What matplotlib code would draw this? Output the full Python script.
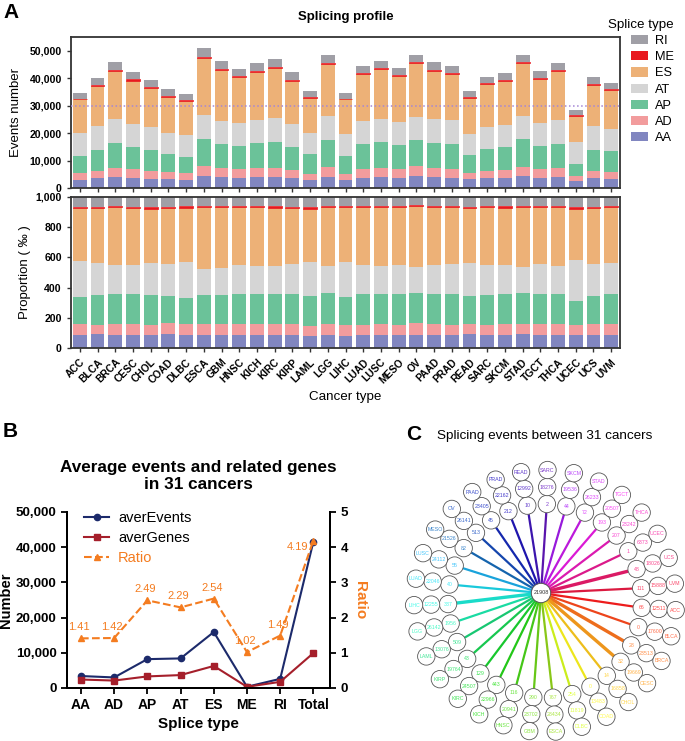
import colorsys
import numpy as np
import matplotlib
matplotlib.use('Agg')
import matplotlib.pyplot as plt
from matplotlib.patches import Circle, Patch

plt.rcParams['font.family'] = ['Liberation Sans', 'DejaVu Sans']

W, H = 685, 741

# ---------------- panel A data (events per splice type) ----------------
cancers = ['ACC', 'BLCA', 'BRCA', 'CESC', 'CHOL', 'COAD', 'DLBC', 'ESCA', 'GBM',
           'HNSC', 'KICH', 'KIRC', 'KIRP', 'LAML', 'LGG', 'LIHC', 'LUAD', 'LUSC',
           'MESO', 'OV', 'PAAD', 'PRAD', 'READ', 'SARC', 'SKCM', 'STAD', 'TGCT',
           'THCA', 'UCEC', 'UCS', 'UVM']
aa = [3040, 3650, 4000, 3650, 3400, 3280, 3040, 4500, 4010, 3770, 3890, 4140, 3650, 2920, 4140, 2800,
      3770, 4010, 3650, 4260, 3890, 3770, 3160, 3530, 3650, 4380, 3770, 3890, 2430, 3530, 3280]
ad = [2430, 2550, 3300, 3150, 2680, 2560, 2310, 3530, 3410, 3040, 3290, 3280, 2920, 2190, 3520, 2430,
      3040, 3290, 3160, 3650, 3290, 3040, 2440, 2670, 2920, 3410, 3040, 3410, 1950, 2800, 2680]
ap = [6330, 7800, 9100, 8160, 7670, 6570, 5960, 9970, 8640, 8640, 9120, 9480, 8390, 7180, 9860, 6450,
      9130, 9370, 8760, 9610, 9240, 9130, 6570, 7910, 8270, 9970, 8400, 8880, 4500, 7540, 7540]
at = [8150, 8500, 8660, 8280, 8390, 7660, 8150, 8520, 8390, 8270, 8400, 8650, 8520, 7780, 8640, 8020,
      8510, 8510, 8520, 8510, 8760, 8760, 7660, 8270, 8030, 8400, 8630, 8640, 7790, 8630, 7910]
es = [12290, 14500, 17640, 15810, 14110, 13140, 12170, 20800, 18490, 16670, 17640, 18000, 15570, 12530,
      19100, 12540, 16910, 18130, 16790, 19350, 17400, 16780, 12900, 15330, 16060, 19220, 15940, 17640,
      9730, 15090, 14110]
me = [240, 350, 370, 490, 490, 370, 370, 370, 370, 360, 360, 370, 370, 370, 360, 240,
      370, 360, 360, 360, 360, 370, 240, 370, 360, 360, 370, 360, 240, 370, 370]
ri = [2190, 2550, 2790, 2660, 2550, 2310, 2060, 3160, 2800, 2560, 2680, 2920, 2670, 2430, 2800, 1950,
      2670, 2680, 2560, 2680, 2800, 2550, 2310, 2430, 2560, 2800, 2550, 2680, 1950, 2550, 2190]
splice_types = ['AA', 'AD', 'AP', 'AT', 'ES', 'ME', 'RI']
type_colors = ['#8186c0', '#f29c9d', '#6bc299', '#d5d5d5', '#edb177', '#e8191f', '#a09fa6']

# ---------------- panel B data ----------------
b_types = ['AA', 'AD', 'AP', 'AT', 'ES', 'ME', 'RI', 'Total']
aver_events = [3400, 3000, 8200, 8400, 15900, 350, 2600, 41600]
aver_genes = [2410, 2110, 3290, 3670, 6260, 343, 1745, 9930]
ratio = [1.41, 1.42, 2.49, 2.29, 2.54, 1.02, 1.49, 4.19]

# ---------------- panel C data ----------------
shared_center = 21908
inner_vals = [66, 0, 28, 32, 14, 0, 254, 767, 290, 116, 443, 129, 43, 509, 1956, 337,
              40, 55, 82, 513, 45, 212, 10, 2, 44, 72, 193, 207, 1, 48, 111]
outer_vals = [12511, 17600, 23513, 19669, 16858, 13483, 11819, 28434, 23702, 20941, 22966,
              24507, 19764, 13076, 26142, 12255, 22046, 24112, 21526, 26141, 23405, 22162,
              12992, 18276, 19536, 26233, 20507, 23242, 6373, 18026, 15888]
thick_spokes = {'BRCA', 'CESC', 'LIHC', 'UCS'}


def px_axes(fig, left, top, right, bottom):
    return fig.add_axes([left / W, 1 - bottom / H, (right - left) / W, (bottom - top) / H])


def spoke_color(h, light=False):
    # darker blues/greens, brighter reds/yellows, like the original wheel
    if h < 0.2:
        v = 0.93
    elif h < 0.45:
        v = 0.78
    elif h < 0.55:
        v = 0.86
    elif h < 0.75:
        v = 0.68
    else:
        v = 0.86
    if light:
        return colorsys.hsv_to_rgb(h, 0.7, min(1.0, v + 0.12))
    return colorsys.hsv_to_rgb(h, 0.88, v)


fig = plt.figure(figsize=(W / 100, H / 100), dpi=100)

# ================= Panel A =================
x = np.arange(len(cancers))
segs = [aa, ad, ap, at, es, me, ri]
totals = np.sum(np.array(segs, dtype=float), axis=0)

ax_top = px_axes(fig, 71, 37, 620, 188)
ax_bot = px_axes(fig, 71, 197, 620, 348)

bottom = np.zeros(len(cancers))
bottom_p = np.zeros(len(cancers))
for name, vals, col in zip(splice_types, segs, type_colors):
    vals = np.array(vals, dtype=float)
    ec = col if name == 'ME' else 'none'
    lw = 0.5 if name == 'ME' else 0
    ax_top.bar(x, vals, 0.78, bottom=bottom, color=col, edgecolor=ec, linewidth=lw, label=name)
    prop = vals / totals * 1000
    ax_bot.bar(x, prop, 0.78, bottom=bottom_p, color=col, edgecolor=ec, linewidth=lw)
    bottom += vals
    bottom_p += prop

ax_top.axhline(30000, color='#a486d6', ls=':', lw=1.1, zorder=3)

for ax in (ax_top, ax_bot):
    ax.set_xlim(-0.5, len(cancers) - 0.5)
    for s in ax.spines.values():
        s.set_linewidth(1.3)
        s.set_color('#333333')
    ax.tick_params(axis='both', direction='out', length=3, width=1, color='#333333')

ax_top.set_ylim(0, 55000)
ax_top.set_yticks(range(0, 50001, 10000))
ax_top.set_yticklabels([f'{v:,}' for v in range(0, 50001, 10000)], fontsize=7.6, fontweight='bold')
ax_top.set_xticks(x)
ax_top.set_xticklabels([])
ax_top.set_ylabel('Events number', fontsize=9.5)
ax_top.yaxis.set_label_coords((22 - 71) / 549, 0.5)
ax_top.set_title('Splicing profile', fontsize=9.5, fontweight='bold', pad=12)

ax_bot.set_ylim(0, 1000)
ax_bot.set_yticks(range(0, 1001, 200))
ax_bot.set_yticklabels([f'{v:,}' for v in range(0, 1001, 200)], fontsize=7.6, fontweight='bold')
ax_bot.set_xticks(x)
ax_bot.set_xticklabels(cancers, rotation=45, ha='right', rotation_mode='anchor',
                       fontsize=7.4, fontweight='bold')
ax_bot.set_ylabel('Proportion ( \u2030 )', fontsize=9.5)
ax_bot.yaxis.set_label_coords((31 - 71) / 549, 0.5)
ax_bot.set_xlabel('Cancer type', fontsize=9.6, labelpad=4)

handles = [Patch(facecolor=c, edgecolor='none') for c in type_colors][::-1]
fig.legend(handles, splice_types[::-1], title='Splice type', loc='upper right',
           bbox_to_anchor=(679 / W, 1 - 14 / H), frameon=False, fontsize=9.2,
           title_fontsize=9.6, handlelength=1.35, handleheight=0.72, labelspacing=0.32,
           handletextpad=0.55, alignment='right', borderaxespad=0)

fig.text(3 / W, 1 - 12 / H, 'A', fontsize=15, fontweight='bold', va='center', ha='left')

# ================= Panel B =================
orange = '#f47c20'
axb = px_axes(fig, 67, 512, 330, 688)
xb = np.arange(len(b_types))
l1, = axb.plot(xb, aver_events, color='#1c2a6b', lw=1.5, marker='o', ms=4.5, label='averEvents')
l2, = axb.plot(xb, aver_genes, color='#a51f2b', lw=1.5, marker='s', ms=4, label='averGenes')
axb.set_ylim(0, 50000)
axb.set_xlim(-0.42, len(b_types) - 0.5)
axb.set_yticks(range(0, 50001, 10000))
axb.set_yticklabels([f'{v:,}' for v in range(0, 50001, 10000)], fontsize=9.6, fontweight='bold')
axb.set_xticks(xb)
axb.set_xticklabels(b_types, fontsize=10, fontweight='bold')
axb.set_ylabel('Number', fontsize=10.5, fontweight='bold', labelpad=2)
axb.set_xlabel('Splice type', fontsize=11, fontweight='bold', labelpad=3)
axb.spines['top'].set_visible(False)

axr = axb.twinx()
l3, = axr.plot(xb, ratio, color=orange, lw=1.5, ls='--', marker='^', ms=4.5, label='Ratio')
axr.set_ylim(0, 5)
axr.set_yticks(range(0, 6))
axr.set_yticklabels([str(v) for v in range(0, 6)], fontsize=9.6, fontweight='bold')
axr.set_ylabel('Ratio', fontsize=11, fontweight='bold', color=orange, rotation=270, labelpad=14)
axr.spines['top'].set_visible(False)
for i, v in enumerate(ratio):
    if i == len(ratio) - 1:
        axr.annotate(f'{v:.2f}', (i, v), xytext=(-5, -6), textcoords='offset pixels',
                     ha='right', va='center', fontsize=8, color=orange)
    else:
        axr.annotate(f'{v:.2f}', (i, v), xytext=(-2, 11), textcoords='offset pixels',
                     ha='center', va='center', fontsize=8, color=orange)

for ax in (axb, axr):
    for s in ax.spines.values():
        s.set_linewidth(1.4)
    ax.tick_params(direction='out', length=4, width=1.3)

leg = axb.legend(handles=[l1, l2, l3], loc='upper left', bbox_to_anchor=(78 / W, 1 - 505 / H),
                 bbox_transform=fig.transFigure, frameon=False, fontsize=10.5,
                 handlelength=1.75, handletextpad=0.6, labelspacing=0.42, borderaxespad=0)
leg.get_texts()[2].set_color(orange)

fig.text(198 / W, 1 - 476 / H, 'Average events and related genes\nin 31 cancers',
         fontsize=12.3, fontweight='bold', ha='center', va='center', linespacing=1.1)
fig.text(3 / W, 1 - 432 / H, 'B', fontsize=15, fontweight='bold', va='center', ha='left')

# ================= Panel C =================
axc = px_axes(fig, 395, 445, 685, 741)
axc.set_xlim(395, 685)
axc.set_ylim(741, 445)
axc.set_aspect('equal')
axc.axis('off')

node_x, node_y = 541, 593     # shared node
ring_x, ring_y = 545, 601     # centre of the ring of cancers
r_node = 8.7
radii = [97, 114, 131]
n = len(cancers)
for i, name in enumerate(cancers):
    ang = np.deg2rad(-4 - i * 360 / n)
    h = i / n
    col = spoke_color(h)
    txt_col = spoke_color(h, light=True)
    ca, sa = np.cos(ang), -np.sin(ang)
    pts = [(ring_x + ca * r, ring_y + sa * r) for r in radii]
    # spoke from shared node to inner circle
    dx, dy = pts[0][0] - node_x, pts[0][1] - node_y
    d = np.hypot(dx, dy)
    ux, uy = dx / d, dy / d
    lw = 2.4 if name in thick_spokes else 1.6
    axc.plot([node_x + ux * r_node, pts[0][0] - ux * r_node],
             [node_y + uy * r_node, pts[0][1] - uy * r_node], color=col, lw=lw,
             solid_capstyle='butt', zorder=1)
    labels = [str(inner_vals[i]), str(outer_vals[i]), name]
    for (px, py), lab in zip(pts, labels):
        axc.add_patch(Circle((px, py), r_node, facecolor='white', edgecolor='#555555',
                             lw=0.6, zorder=2))
        axc.text(px, py, lab, fontsize=3.8, color=txt_col, ha='center', va='center', zorder=3)

axc.add_patch(Circle((node_x, node_y), r_node + 1, facecolor='white', edgecolor='#555555',
                     lw=0.7, zorder=2))
axc.text(node_x, node_y, str(shared_center), fontsize=4, color='#333333', ha='center',
         va='center', zorder=3)

fig.text(406 / W, 1 - 434 / H, 'C', fontsize=15, fontweight='bold', va='center', ha='left')
fig.text(437 / W, 1 - 436 / H, 'Splicing events between 31 cancers', fontsize=9.7,
         va='center', ha='left')

fig.savefig('out.png', dpi=100)
